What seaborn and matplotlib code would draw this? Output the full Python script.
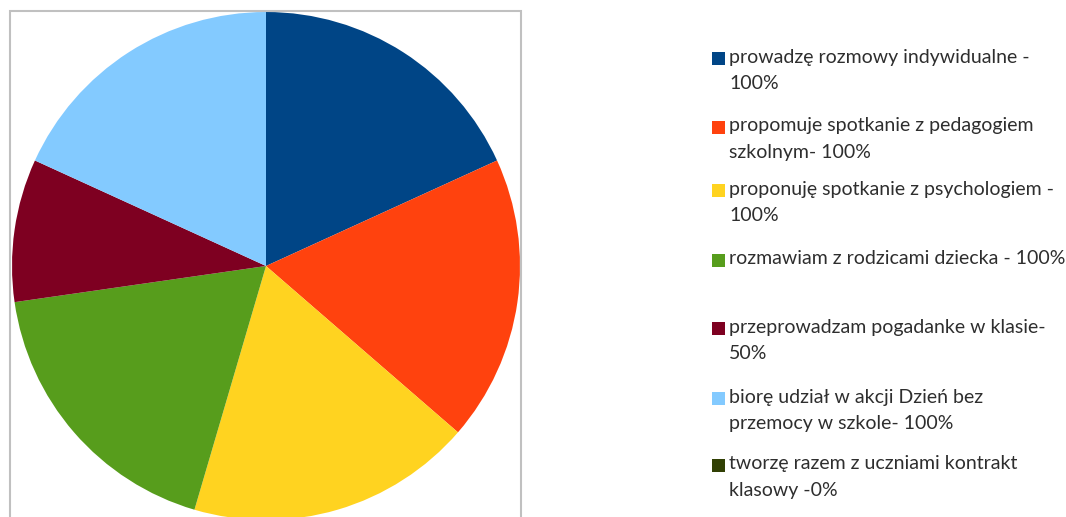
import matplotlib
matplotlib.use("Agg")
import matplotlib.pyplot as plt
import seaborn as sns
from matplotlib.patches import Rectangle

# dane z wykresu
etykiety = [
    "prowadzę rozmowy indywidualne -\n100%",
    "propomuje spotkanie z pedagogiem\nszkolnym- 100%",
    "proponuję spotkanie z psychologiem -\n100%",
    "rozmawiam z rodzicami dziecka - 100%",
    "przeprowadzam pogadanke w klasie-\n50%",
    "biorę udział w akcji Dzień bez\nprzemocy w szkole- 100%",
    "tworzę razem z uczniami kontrakt\nklasowy -0%",
]
wartosci = [100, 100, 100, 100, 50, 100, 0]
kolory = ["#004586", "#ff420e", "#ffd320", "#579d1c", "#7e0021", "#83caff", "#314004"]

sns.set_theme(style="white")
plt.rcParams["font.family"] = ["Lato", "DejaVu Sans"]

W, H = 1066, 517
fig = plt.figure(figsize=(W / 100, H / 100), dpi=100)

# ramka obszaru wykresu
fig.patches.append(Rectangle((10 / W, -0.1), (521 - 10) / W, 1.1 - 11 / H,
                             transform=fig.transFigure, fill=False,
                             edgecolor="#c0c0c0", linewidth=1.5))

# kolo: srodek (266, 266), promien 254 px
r = 254
ax = fig.add_axes([(266 - r) / W, (H - 266 - r) / H, 2 * r / W, 2 * r / H])
ax.pie(wartosci, colors=sns.color_palette(kolory), startangle=90,
       counterclock=False, wedgeprops=dict(linewidth=0))
ax.set_xlim(-1, 1)
ax.set_ylim(-1, 1)
ax.axis("off")

# legenda
srodki = [58, 127, 190, 260, 328, 398, 465]
for lab, kol, yc in zip(etykiety, kolory, srodki):
    fig.patches.append(Rectangle((712 / W, 1 - (yc + 6.5) / H), 13 / W, 13 / H,
                                 transform=fig.transFigure, facecolor=kol,
                                 edgecolor="none"))
    fig.text(729 / W, 1 - (yc - 9.5) / H, lab, fontsize=14, color="#2e2e2e",
             va="top", ha="left", linespacing=1.68)

fig.savefig("out.png", dpi=100)
